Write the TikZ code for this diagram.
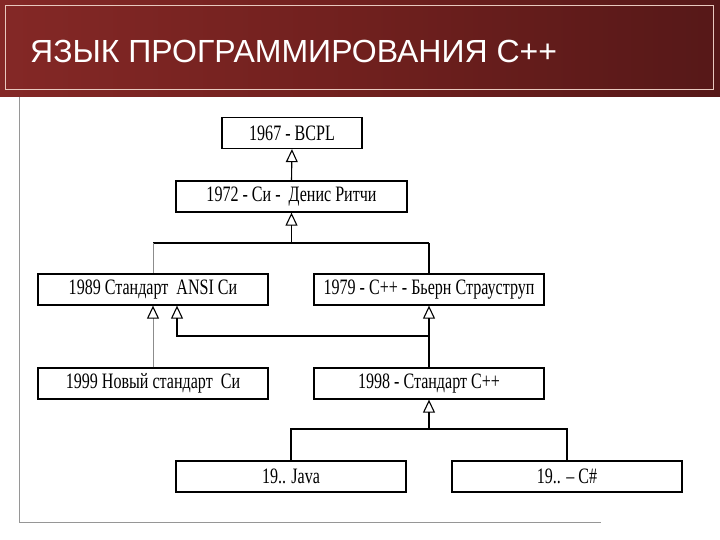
\documentclass[tikz,border=0pt]{standalone}
\usepackage{fontspec}
\setmainfont{Liberation Serif}
\newfontfamily\boxfont[FakeStretch=0.73]{Liberation Serif}
\newfontfamily\titlefont{Liberation Sans}
\usetikzlibrary{arrows.meta}
\definecolor{hdrL}{RGB}{132,40,38}
\definecolor{hdrM}{RGB}{112,32,30}
\definecolor{hdrR}{RGB}{86,24,24}
\definecolor{hdrLine}{RGB}{232,200,190}
\definecolor{frameGray}{RGB}{150,150,150}
\definecolor{faintGray}{RGB}{140,140,140}
\begin{document}
\begin{tikzpicture}[x=1pt,y=-1pt,
  box/.style={draw=black, line width=1.3pt, fill=white, minimum height=31pt,
    minimum width=230pt, inner sep=0pt, font=\boxfont\fontsize{22}{24}\selectfont},
  conn/.style={line width=1.1pt, draw=black},
  faint/.style={line width=0.8pt, draw=faintGray},
  inh/.style={-{Triangle[open,length=13pt,width=12pt,line width=1.1pt,color=black]}}]
\useasboundingbox (0,0) rectangle (720,540);
\fill[white] (0,0) rectangle (720,540);
% header
\shade[left color=hdrL, right color=hdrR, middle color=hdrM] (0,0) rectangle (720,97);
\draw[hdrLine, line width=0.8pt] (5,5) rectangle (713,89);
\node[anchor=base west, text=white, inner sep=0pt,
  font=\titlefont\fontsize{32}{36}\selectfont] (title) at (30,63) {ЯЗЫК ПРОГРАММИРОВАНИЯ С++};
% frame lines
\draw[frameGray, line width=0.8pt] (19,97) -- (19,522) -- (601,522);
% boxes
\node[box, minimum width=140pt] (bcpl) at (292,133) {1967 - BCPL};
\node[box, minimum width=231pt] (ritchie) at (291.5,196.5) {1972 - Си -\ \ Денис Ритчи};
\node[box] (ansi) at (153,289.5) {1989 Стандарт\ \ ANSI Си};
\node[box] (cpp) at (429,289.5) {1979 - С++ - Бьерн Страуструп};
\node[box] (c99) at (153,383.5) {1999 Новый стандарт\ \ Си};
\node[box] (cpp98) at (429,383.5) {1998 - Стандарт С++};
\node[box] (java) at (291,476.5) {19.. Java};
\node[box] (csharp) at (567,476.5) {19.. – C\#};
% connectors
\draw[conn, inh] (ritchie.north) -- (bcpl.south);
\coordinate (j1) at (291.5,243);
\draw[conn, inh] (j1) -- (ritchie.south);
\draw[conn] (ansi.north |- j1) -- (cpp.north |- j1);
\draw[faint] (ansi.north |- j1) -- (ansi.north);
\draw[conn] (cpp.north |- j1) -- (cpp.north);
\draw[conn, inh] (cpp98.north) -- (cpp.south);
\coordinate (j2) at (429,336);
\draw[conn, inh] (j2) -| ([xshift=24pt]ansi.south);
\draw[faint, inh] (c99.north) -- (ansi.south);
\coordinate (j3) at (429,429);
\draw[conn, inh] (j3) -- (cpp98.south);
\draw[conn] (java.north) |- (j3) -| (csharp.north);
\end{tikzpicture}
\end{document}
